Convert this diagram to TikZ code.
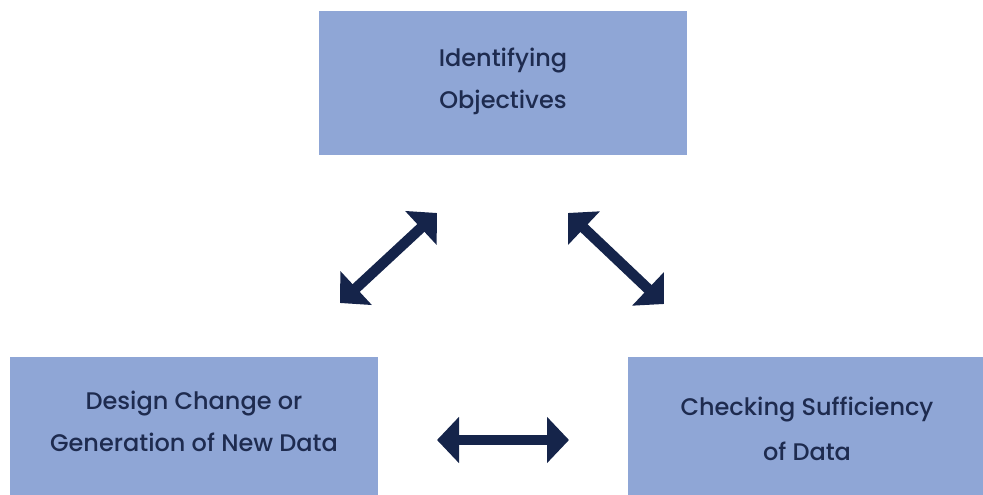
\documentclass[tikz,border=0pt]{standalone}
\usepackage{fontspec}
\setmainfont{Poppins Medium}
\usetikzlibrary{arrows.meta}
\definecolor{boxfill}{HTML}{8FA6D6}
\definecolor{boxtext}{HTML}{1E2B4F}
\definecolor{arrowcol}{HTML}{15244A}
\begin{document}
\begin{tikzpicture}[x=1pt,y=-1pt,
  stage/.style={rectangle,fill=boxfill,draw=none,inner sep=0pt},
  label/.style={text=boxtext,align=center,inner sep=0pt,
    font=\fontsize{24}{42}\selectfont},
  twoway/.style={draw=arrowcol,line width=10.5pt,
    {Triangle[length=22pt,width=45pt]}-{Triangle[length=22pt,width=45pt]}}]
\useasboundingbox (0,0) rectangle (983,495);
% the three stages
\node[stage,minimum width=368pt,minimum height=144pt] (obj) at (503,83) {};
\node[stage,minimum width=368pt,minimum height=144pt] (gen) at (194,429) {};
\node[stage,minimum width=358pt,minimum height=144pt] (chk) at (807,429) {};
\node[label] (objtext) at ([yshift=2pt]obj.center) {Identifying\\Objectives};
\node[label] (gentext) at ([yshift=8pt]gen.center) {Design Change or\\Generation of New Data};
\node[label,font=\fontsize{24}{45}\selectfont] (chktext) at (chk.center) {Checking Sufficiency\\of Data};
% arrow end points between the stages
\coordinate (a1) at (340,303);
\coordinate (a2) at (437,213);
\coordinate (b1) at (568,213);
\coordinate (b2) at (664,304);
\coordinate (c1) at (437,440);
\coordinate (c2) at (569,440);
\draw[twoway] (a1) -- (a2);
\draw[twoway] (b1) -- (b2);
\draw[twoway,line width=9.5pt] (c1) -- (c2);
\end{tikzpicture}
\end{document}
